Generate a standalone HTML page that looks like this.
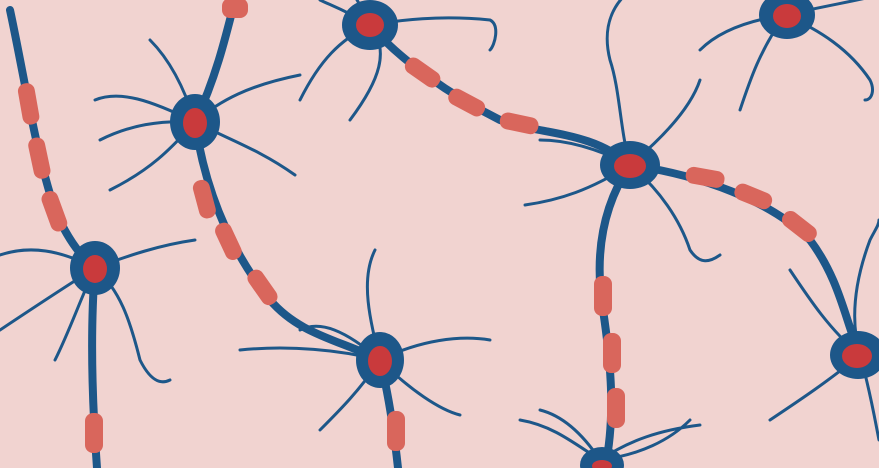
<!DOCTYPE html>
<html><head><meta charset="utf-8"><style>
html,body{margin:0;padding:0;background:#f1d3d0;width:879px;height:468px;overflow:hidden}
svg{display:block}
.ax{fill:none;stroke:#1d5789;stroke-width:8;stroke-linecap:round}
.dn{fill:none;stroke:#1d5789;stroke-width:3;stroke-linecap:round}
.body{fill:#1d5789}
.nuc{fill:#c93a3c}
.my{fill:#d9665c}
</style></head><body>
<svg width="879" height="468" viewBox="0 0 879 468">
<rect width="879" height="468" fill="#f1d3d0"/>
<g>
<path class="ax" d="M370,25 C400,60 450,95 500,120 C540,135 590,130 630,165"/>
<path class="ax" d="M195,122 C205,190 230,250 270,300 C300,335 340,340 380,360"/>
<path class="ax" d="M10,10 C25,80 35,150 55,210 C70,245 85,260 95,268"/>
<path class="ax" d="M95,268 C90,330 92,400 97,468"/>
<path class="ax" d="M630,165 C700,175 770,200 810,240 C840,280 845,320 860,355"/>
<path class="ax" d="M630,165 C600,210 595,260 603,310 C612,370 615,420 605,468"/>
<path class="ax" d="M380,360 C390,400 395,440 398,468"/>
<path class="ax" d="M195,122 C215,80 225,40 235,0"/>
</g>
<g>
<g transform="translate(423 72) scale(1.3) translate(-423 -72)"><rect class="my" x="408" y="66" width="30" height="13" rx="6" transform="rotate(35 423 72)"/></g>
<g transform="translate(467 102) scale(1.3) translate(-467 -102)"><rect class="my" x="452" y="96" width="30" height="13" rx="6" transform="rotate(28 467 102)"/></g>
<g transform="translate(519 124) scale(1.3) translate(-519 -124)"><rect class="my" x="504" y="117" width="30" height="13" rx="6" transform="rotate(12 519 124)"/></g>
<g transform="translate(205 199) scale(1.3) translate(-205 -199)"><rect class="my" x="198" y="184" width="13" height="30" rx="6" transform="rotate(-15 205 199)"/></g>
<g transform="translate(229 241) scale(1.3) translate(-229 -241)"><rect class="my" x="222" y="226" width="13" height="30" rx="6" transform="rotate(-25 229 241)"/></g>
<g transform="translate(263 287) scale(1.3) translate(-263 -287)"><rect class="my" x="256" y="272" width="13" height="30" rx="6" transform="rotate(-35 263 287)"/></g>
<g transform="translate(28 104) scale(1.3) translate(-28 -104)"><rect class="my" x="22" y="88" width="13" height="32" rx="6" transform="rotate(-10 28 104)"/></g>
<g transform="translate(40 158) scale(1.3) translate(-40 -158)"><rect class="my" x="33" y="142" width="13" height="32" rx="6" transform="rotate(-12 40 158)"/></g>
<g transform="translate(55 211) scale(1.3) translate(-55 -211)"><rect class="my" x="48" y="195" width="13" height="32" rx="6" transform="rotate(-20 55 211)"/></g>
<rect class="my" x="85" y="413" width="18" height="40" rx="8"/>
<g transform="translate(705 178) scale(1.3) translate(-705 -178)"><rect class="my" x="690" y="171" width="30" height="13" rx="6" transform="rotate(10 705 178)"/></g>
<g transform="translate(753 197) scale(1.3) translate(-753 -197)"><rect class="my" x="738" y="190" width="30" height="13" rx="6" transform="rotate(22 753 197)"/></g>
<g transform="translate(799 227) scale(1.3) translate(-799 -227)"><rect class="my" x="784" y="220" width="30" height="13" rx="6" transform="rotate(38 799 227)"/></g>
<rect class="my" x="594" y="276" width="18" height="40" rx="8"/>
<rect class="my" x="603" y="333" width="18" height="40" rx="8"/>
<rect class="my" x="607" y="388" width="18" height="40" rx="8"/>
<rect class="my" x="387" y="411" width="18" height="40" rx="8"/>
<rect class="my" x="222" y="-2" width="26" height="20" rx="8"/>
</g>
<g>
<path class="dn" d="M370,25 C340,40 320,60 300,100 M370,25 C400,20 440,15 490,20 C500,25 495,45 490,50 M370,25 C390,50 380,80 350,120 M370,25 C345,10 330,5 320,0 M370,25 C360,5 355,-5 350,-10"/>
<path class="dn" d="M195,122 C160,120 130,125 100,140 M195,122 C170,150 150,170 110,190 M195,122 C230,140 260,150 295,175 M195,122 C220,100 250,85 300,75 M195,122 C185,90 170,60 150,40 M195,122 C150,100 120,90 95,100"/>
<path class="dn" d="M95,268 C60,250 30,245 0,255 M95,268 C60,290 30,310 0,330 M95,268 C130,255 160,245 195,240 M95,268 C120,290 130,320 140,360 C150,380 160,385 170,380 M95,268 C80,300 70,330 55,360"/>
<path class="dn" d="M630,165 C600,150 570,140 540,140 M630,165 C620,130 620,90 610,60 M630,165 C660,140 690,110 700,80 M630,165 C660,190 680,220 690,250 C700,265 710,262 720,255 M630,165 C590,190 560,200 525,205 M610,60 C600,20 620,0 625,-5"/>
<path class="dn" d="M380,360 C340,350 290,345 240,350 M380,360 C360,390 340,410 320,430 M380,360 C420,340 460,335 490,340 M380,360 C410,390 440,410 460,415 M380,360 C370,320 360,280 375,250 M380,360 C345,330 320,320 300,330"/>
<path class="dn" d="M785,15 C750,20 720,30 700,50 M785,15 C760,50 750,80 740,110 M785,15 C820,30 850,50 870,80 C875,90 872,100 865,100 M785,15 C830,5 860,0 879,-5 M785,15 C770,0 760,-5 750,-10"/>
<path class="dn" d="M860,355 C830,330 810,300 790,270 M860,355 C830,380 800,400 770,420 M860,355 C850,320 855,280 870,240 C875,230 879,225 879,220 M860,355 C870,390 875,420 879,440"/>
<path class="dn" d="M600,460 C570,440 550,425 520,420 M600,460 C630,440 660,430 700,425 M600,460 C580,430 560,415 540,410 M600,460 C640,455 670,440 690,420"/>
</g>
<g>
<g><ellipse class="body" cx="370" cy="25" rx="28" ry="25"/><ellipse class="nuc" cx="370" cy="25" rx="14" ry="12"/></g>
<g><ellipse class="body" cx="195" cy="122" rx="25" ry="28"/><ellipse class="nuc" cx="195" cy="123" rx="12" ry="15"/></g>
<g><ellipse class="body" cx="95" cy="268" rx="25" ry="27"/><ellipse class="nuc" cx="95" cy="269" rx="12" ry="14"/></g>
<g><ellipse class="body" cx="630" cy="165" rx="30" ry="24"/><ellipse class="nuc" cx="630" cy="166" rx="16" ry="12"/></g>
<g><ellipse class="body" cx="380" cy="360" rx="24" ry="28"/><ellipse class="nuc" cx="380" cy="361" rx="12" ry="15"/></g>
<g><ellipse class="body" cx="787" cy="15" rx="28" ry="24"/><ellipse class="nuc" cx="787" cy="16" rx="14" ry="12"/></g>
<g><ellipse class="body" cx="858" cy="355" rx="28" ry="24"/><ellipse class="nuc" cx="857" cy="356" rx="15" ry="12"/></g>
<g><ellipse class="body" cx="602" cy="465" rx="22" ry="18"/><ellipse class="nuc" cx="602" cy="466" rx="10" ry="6"/></g>
</g>
</svg>
</body></html>
